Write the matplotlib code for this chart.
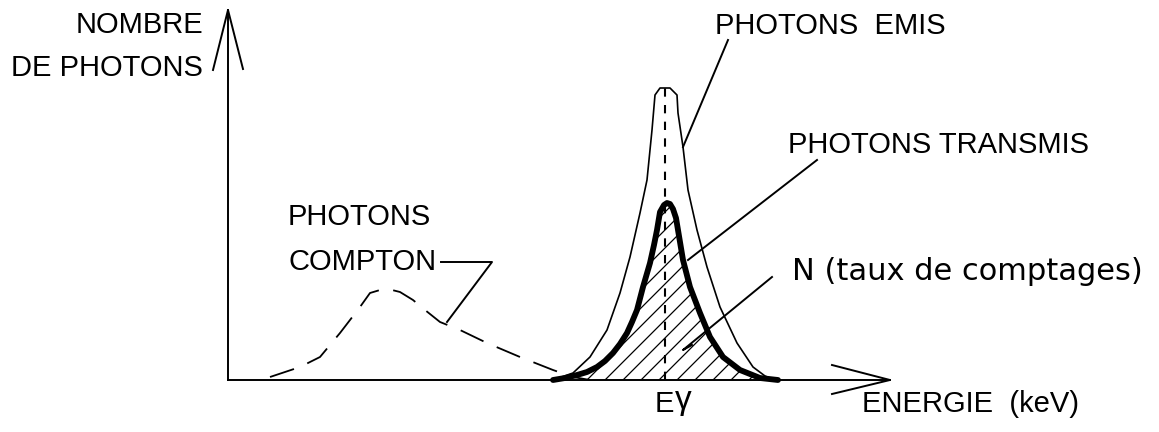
import numpy as np
import matplotlib.pyplot as plt
from matplotlib.patches import Polygon

plt.rcParams['font.family'] = ['Liberation Sans', 'DejaVu Sans']

# Curves (energy, height above the baseline), drawn in plot units
emis_e = [553, 573, 590, 607, 620, 630, 640, 647, 652, 655, 660, 670, 677,
          678, 683, 688, 697, 707, 720, 737, 753, 765, 775]
emis_n = [0, 7, 23, 50, 87, 123, 167, 200, 250, 285, 292, 292, 285,
          267, 233, 190, 150, 113, 73, 37, 13, 4, 0]

trans_e = [553, 565, 577, 587, 597, 605, 613, 620, 627, 632, 637, 643, 650,
           654, 657, 660, 664, 667, 670, 673, 676, 678, 683, 690, 700, 710,
           723, 740, 760, 778]
trans_n = [0, 2, 5, 8, 13, 19, 27, 36, 47, 58, 70, 93, 117,
           135, 150, 168, 175, 177, 176, 171, 162, 150, 120, 93, 67, 43,
           23, 10, 2, 0]

compton_e = [270, 285, 300, 320, 340, 360, 370, 380, 392, 400, 413, 425, 440,
             460, 487, 520, 553, 573, 590]
compton_n = [3, 8, 13, 23, 47, 73, 87, 90, 90, 88, 80, 70, 58,
             50, 37, 23, 10, 3, 0]

e_gamma = 665
x_start, x_end = 228, 890
y_top = 370
hatch_step = 18

fig = plt.figure(figsize=(11.59, 4.32), dpi=100)
ax = fig.add_axes([0, 0, 1, 1])
ax.set_xlim(0, 1159)
ax.set_ylim(-52, 380)
ax.axis('off')

lw = 1.4

# axes with open arrow heads
ax.plot([x_start, x_end], [0, 0], color='black', lw=lw)
ax.plot([832, x_end, 832], [15, 0, -14], color='black', lw=lw)
ax.plot([x_start, x_start], [0, y_top], color='black', lw=lw)
ax.plot([213, x_start, 243], [310, y_top, 311], color='black', lw=lw)

# hatched counting area under the transmitted peak: 45 degree lines clipped
# to the region between the curve and the baseline
area = Polygon(np.column_stack([trans_e, trans_n]), closed=True,
               facecolor='none', edgecolor='none')
ax.add_patch(area)
for c in np.arange(trans_e[0] - 200, trans_e[-1] + 1, hatch_step):
    ln, = ax.plot([c, c + 200], [0, 200], color='black', lw=0.9)
    ln.set_clip_path(area)

# emitted peak (thin) and transmitted peak (thick)
ax.plot(emis_e, emis_n, color='black', lw=1.2)
ax.plot(trans_e, trans_n, color='black', lw=4.2, solid_capstyle='round',
        solid_joinstyle='round')

# compton continuum
ax.plot(compton_e, compton_n, color='black', lw=1.3, dashes=(14, 8))

# line at E gamma
ax.plot([e_gamma, e_gamma], [0, 292], color='black', lw=1.5, dashes=(4, 4))

# leader lines
ax.plot([728, 683], [340, 233], color='black', lw=lw)
ax.plot([817, 688], [220, 120], color='black', lw=lw)
ax.plot([772, 683, 692], [103, 30, 35], color='black', lw=lw)
ax.plot([441, 492, 447], [118, 118, 58], color='black', lw=lw)

fs = 21
ax.text(203, 355, 'NOMBRE', fontsize=fs, ha='right', va='center')
ax.text(203, 312, 'DE PHOTONS', fontsize=fs, ha='right', va='center')
ax.text(715, 354, 'PHOTONS  EMIS', fontsize=fs, ha='left', va='center')
ax.text(788, 235, 'PHOTONS TRANSMIS', fontsize=fs, ha='left', va='center')
ax.text(792, 108, 'N (taux de comptages)', fontsize=22, ha='left',
        va='center', family='DejaVu Sans')
ax.text(288, 163, 'PHOTONS', fontsize=fs, ha='left', va='center')
ax.text(288, 118, 'COMPTON', fontsize=fs, ha='left', va='center')
ax.text(655, -24, 'E', fontsize=fs, ha='left', va='center')
ax.text(675, -21, 'γ', fontsize=24, ha='left', va='center')
ax.text(862, -24, 'ENERGIE  (keV)', fontsize=fs, ha='left', va='center')

fig.savefig('out.png', dpi=100)
